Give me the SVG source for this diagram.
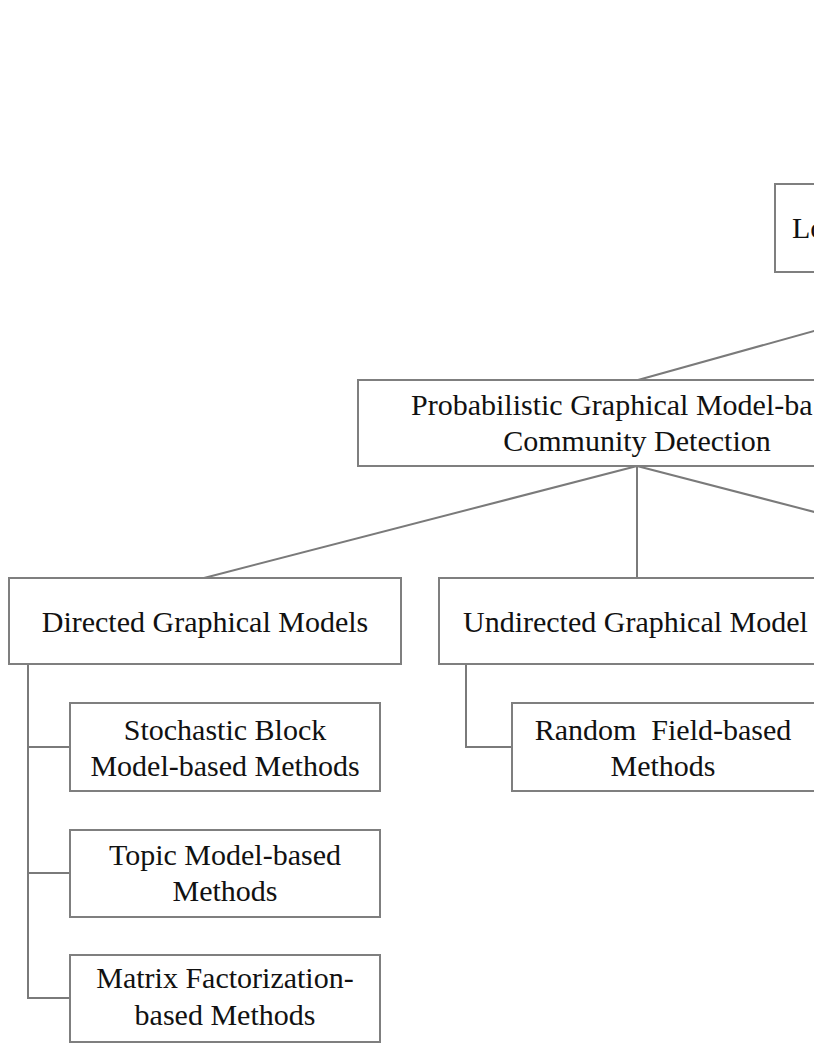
<svg xmlns="http://www.w3.org/2000/svg" width="814" height="1053" viewBox="0 0 814 1053">
<style>
.box{fill:#ffffff;stroke:#7f7f7f;stroke-width:2}
.t{font-family:"Liberation Serif","Times New Roman",serif;font-size:30px;fill:#111111}
.c{text-anchor:middle}
.conn line,.conn polyline{stroke:#7a7a7a;stroke-width:2;fill:none}
</style>
<rect width="814" height="1053" fill="#ffffff"/>
<g class="conn" id="connectors">
<line x1="638" y1="380" x2="830" y2="326.5"/>
<line x1="637" y1="466" x2="204" y2="578"/>
<line x1="637" y1="466" x2="637" y2="578"/>
<line x1="637" y1="466" x2="830" y2="516"/>
<polyline points="28,664 28,998 70,998"/>
<line x1="28" y1="747" x2="70" y2="747"/>
<line x1="28" y1="873" x2="70" y2="873"/>
<polyline points="466,664 466,747 512,747"/>
</g>
<g id="node-root">
<rect class="box" x="775" y="184" width="80" height="88"/>
<text class="t" x="792" y="238">Lo</text>
</g>
<g id="node-pgm">
<rect class="box" x="358" y="380" width="560" height="86"/>
<text class="t" x="411" y="415">Probabilistic Graphical Model-ba</text>
<text class="t c" x="637" y="451">Community Detection</text>
</g>
<g id="node-directed">
<rect class="box" x="9" y="578" width="392" height="86"/>
<text class="t c" x="205" y="632">Directed Graphical Models</text>
</g>
<g id="node-undirected">
<rect class="box" x="439" y="578" width="400" height="86"/>
<text class="t" x="463" y="632">Undirected Graphical Model</text>
</g>
<g id="node-sbm">
<rect class="box" x="70" y="703" width="310" height="88"/>
<text class="t c" x="225" y="740">Stochastic Block</text>
<text class="t c" x="225" y="776">Model-based Methods</text>
</g>
<g id="node-topic">
<rect class="box" x="70" y="830" width="310" height="87"/>
<text class="t c" x="225" y="865">Topic Model-based</text>
<text class="t c" x="225" y="901">Methods</text>
</g>
<g id="node-mf">
<rect class="box" x="70" y="955" width="310" height="87"/>
<text class="t c" x="225" y="988">Matrix Factorization-</text>
<text class="t c" x="225" y="1025">based Methods</text>
</g>
<g id="node-rf">
<rect class="box" x="512" y="703" width="310" height="88"/>
<text class="t c" x="663" y="740" xml:space="preserve">Random  Field-based</text>
<text class="t c" x="663" y="776">Methods</text>
</g>
</svg>
